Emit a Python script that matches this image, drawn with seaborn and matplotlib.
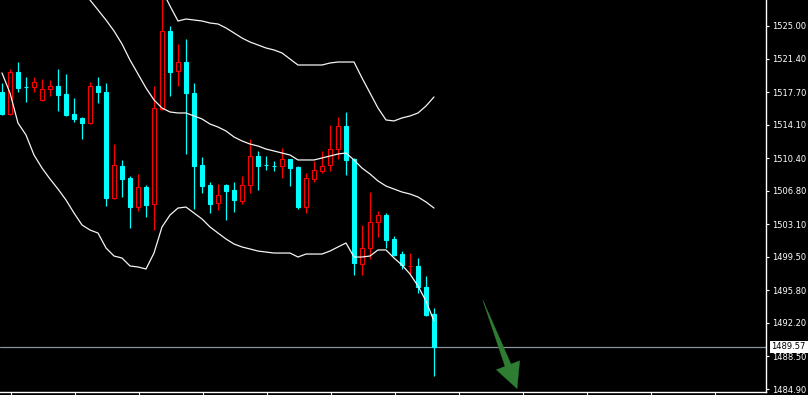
import numpy as np
import pandas as pd
import matplotlib
matplotlib.use("Agg")
import matplotlib.pyplot as plt
import seaborn as sns

# candle data
opens = [1517.71, 1515.28, 1519.92, 1518.30, 1518.26, 1516.83, 1518.04, 1518.37, 1517.49, 1515.28,
         1514.84, 1514.28, 1518.37, 1517.71, 1506.00, 1509.53, 1508.21, 1505.00, 1507.21, 1505.34,
         1515.83, 1524.45, 1520.03, 1521.02, 1517.60, 1509.64, 1507.44, 1505.45, 1507.44, 1506.88,
         1505.67, 1507.44, 1510.64, 1509.68, 1509.57, 1509.53, 1510.31, 1509.42, 1505.00, 1508.10,
         1508.98, 1509.64, 1511.41, 1513.95, 1510.31, 1498.71, 1500.48, 1503.35, 1504.12, 1501.47,
         1499.81, 1498.47, 1498.49, 1496.17, 1493.18]
highs = [1518.70, 1520.25, 1521.02, 1519.37, 1519.37, 1519.15, 1519.03, 1520.25, 1519.70, 1517.05,
         1514.95, 1518.81, 1519.37, 1518.70, 1511.96, 1510.20, 1508.43, 1508.65, 1507.44, 1518.37,
         1528.20, 1525.00, 1523.01, 1523.56, 1518.70, 1510.53, 1507.77, 1507.55, 1507.55, 1507.77,
         1508.43, 1512.52, 1511.19, 1510.64, 1510.09, 1511.52, 1510.36, 1509.53, 1508.76, 1510.09,
         1511.19, 1514.06, 1514.95, 1515.50, 1510.42, 1503.02, 1506.66, 1504.56, 1504.34, 1501.80,
         1500.14, 1499.92, 1499.37, 1497.38, 1493.85]
lows = [1515.17, 1515.17, 1517.71, 1516.60, 1517.71, 1516.71, 1517.27, 1515.61, 1515.06, 1514.39,
        1512.52, 1514.17, 1516.49, 1505.12, 1505.89, 1506.11, 1502.69, 1504.56, 1503.90, 1502.46,
        1515.72, 1517.27, 1518.37, 1510.86, 1504.78, 1506.55, 1504.34, 1504.67, 1503.57, 1504.45,
        1505.34, 1506.55, 1506.88, 1509.09, 1508.98, 1508.21, 1507.32, 1504.78, 1504.34, 1507.77,
        1508.76, 1508.98, 1510.31, 1508.54, 1497.49, 1497.49, 1499.26, 1501.69, 1500.48, 1499.59,
        1498.16, 1497.60, 1495.50, 1492.96, 1486.33]
closes = [1515.28, 1519.92, 1518.15, 1518.26, 1518.81, 1518.04, 1518.37, 1517.38, 1515.17, 1514.73,
          1514.28, 1518.37, 1517.71, 1506.00, 1509.64, 1508.10, 1505.00, 1507.21, 1505.23, 1515.94,
          1524.45, 1519.92, 1521.02, 1517.60, 1509.53, 1507.32, 1505.34, 1506.33, 1506.77, 1505.78,
          1507.44, 1510.64, 1509.53, 1509.64, 1509.53, 1510.31, 1509.31, 1505.00, 1508.21, 1509.09,
          1509.53, 1511.41, 1513.95, 1510.20, 1498.82, 1500.48, 1503.35, 1504.12, 1501.36, 1499.70,
          1498.60, 1498.51, 1496.17, 1493.07, 1489.57]

nan = np.nan
upper_band = [nan] * 20 + [
    1528.97, 1527.21, 1525.55, 1525.77, 1525.66, 1525.55, 1525.33, 1525.22, 1524.78, 1524.23,
    1523.67, 1523.23, 1522.90, 1522.57, 1522.35, 1522.02, 1521.35, 1520.69, 1520.69, 1520.69,
    1520.69, 1520.91, 1521.02, 1521.02, 1521.02, 1519.26, 1517.60, 1515.94, 1514.62, 1514.51,
    1514.84, 1515.06, 1515.39, 1516.16, 1517.16]
mid_band = [nan] * 9 + [
    1530.08, 1528.97, 1527.87, 1526.77, 1525.66, 1524.45, 1523.01, 1521.24, 1519.70, 1518.15,
    1516.83, 1515.94, 1515.50, 1515.39, 1515.39, 1515.06, 1514.73, 1514.17, 1513.84, 1513.40,
    1512.74, 1512.30, 1511.96, 1511.74, 1511.41, 1511.19, 1510.97, 1510.75, 1510.20, 1510.20,
    1510.20, 1510.42, 1510.64, 1510.86, 1510.97, 1510.20, 1509.31, 1508.65, 1507.88, 1507.32,
    1506.99, 1506.66, 1506.44, 1506.11, 1505.56, 1504.89]
lower_band = [
    1519.81, 1517.60, 1514.28, 1512.96, 1510.75, 1509.31, 1508.10, 1506.99, 1505.78, 1504.34,
    1503.02, 1502.46, 1502.13, 1500.48, 1499.59, 1499.37, 1498.49, 1498.38, 1498.16, 1499.92,
    1502.80, 1504.12, 1504.89, 1505.00, 1504.34, 1503.68, 1502.80, 1502.13, 1501.47, 1500.92,
    1500.59, 1500.37, 1500.14, 1500.03, 1499.92, 1499.92, 1499.92, 1499.48, 1499.81, 1499.81,
    1499.81, 1500.14, 1500.59, 1501.03, 1499.48, 1499.48, 1499.59, 1500.26, 1500.26, 1499.37,
    1498.60, 1497.60, 1496.28, 1494.62, 1492.41]

price_ticks = [1525.00, 1521.40, 1517.70, 1514.10, 1510.40, 1506.80, 1503.10,
               1499.50, 1495.80, 1492.20, 1488.50, 1484.90]
last_price = 1489.57
arrow_start = (60.1, 1494.73)
arrow_end = (64.4, 1484.90)

df = pd.DataFrame({"bar": np.arange(len(opens)), "open": opens, "high": highs,
                   "low": lows, "close": closes, "upper": upper_band,
                   "mid": mid_band, "lower": lower_band})
df["up"] = df.close >= df.open
df["body_lo"] = df[["open", "close"]].min(axis=1)
df["body_hi"] = df[["open", "close"]].max(axis=1)

sns.set_theme(style="dark", rc={"axes.facecolor": "black", "figure.facecolor": "black"})
plt.rcParams["font.family"] = ["DejaVu Sans"]

fig = plt.figure(figsize=(8.08, 3.95), dpi=100)
ax = fig.add_axes([0, 3 / 395, 766 / 808, 392 / 395])
ax.set_facecolor("black")

CYAN, RED = "#00ffff", "#ff0000"
colors = np.where(df.up, RED, CYAN)

# wicks
ax.vlines(df.bar, df.low, df.high, colors=colors, lw=0.9, zorder=2)
# bodies: hollow red for up, filled cyan for down
ax.bar(df.bar, df.body_hi - df.body_lo, bottom=df.body_lo, width=0.55,
       color=np.where(df.up, "black", CYAN), edgecolor=colors, linewidth=0.8, zorder=3)

# bollinger bands
for col in ["upper", "mid", "lower"]:
    sns.lineplot(data=df, x="bar", y=col, color="#f4f4f4", lw=0.9, ax=ax, zorder=4)

ax.axhline(last_price, color="#8a9099", lw=0.9, zorder=1)

# green down arrow: tapered shaft + triangular head
GREEN = "#2e7d32"
s, e = np.array(arrow_start), np.array(arrow_end)
head_base = tuple(s + 0.8 * (e - s))
ax.annotate("", xy=arrow_start, xytext=head_base,
            arrowprops=dict(arrowstyle="wedge,tail_width=0.5,shrink_factor=0.5",
                            fc=GREEN, ec=GREEN, lw=0.3, mutation_scale=10,
                            shrinkA=0, shrinkB=0), zorder=5)
ax.annotate("", xy=arrow_end, xytext=head_base,
            arrowprops=dict(arrowstyle="-|>,head_length=0.6,head_width=0.3",
                            fc=GREEN, ec=GREEN, lw=0.3, mutation_scale=30,
                            shrinkA=0, shrinkB=0), zorder=5)

ax.set_xlim(-0.25, 95.5)
ax.set_ylim(1484.57, 1527.87)
ax.set_xlabel("")
ax.set_ylabel("")

ax.yaxis.tick_right()
ax.set_yticks(price_ticks)
ax.set_yticklabels([f"{t:.2f}" for t in price_ticks])
ax.set_xticks(np.arange(1.125, 95, 8))
ax.set_xticklabels([])
ax.tick_params(axis="y", colors="white", labelcolor="white", labelsize=6,
               length=2.5, width=0.8, pad=2, direction="out", right=True, left=False)
ax.tick_params(axis="x", colors="white", length=2, width=0.8, direction="out", bottom=True)
ax.grid(False)
for side in ["top", "left"]:
    ax.spines[side].set_visible(False)
for side in ["right", "bottom"]:
    ax.spines[side].set_visible(True)
    ax.spines[side].set_color("white")
    ax.spines[side].set_linewidth(1.0)

ax.annotate(f"{last_price:.2f}", xy=(1, last_price), xycoords=("axes fraction", "data"),
            xytext=(4, 0), textcoords="offset points", va="center", ha="left",
            fontsize=6, color="black", annotation_clip=False, zorder=10,
            bbox=dict(boxstyle="square,pad=0.2", fc="white", ec="none"))

fig.savefig("out.png", dpi=100, facecolor="black")
